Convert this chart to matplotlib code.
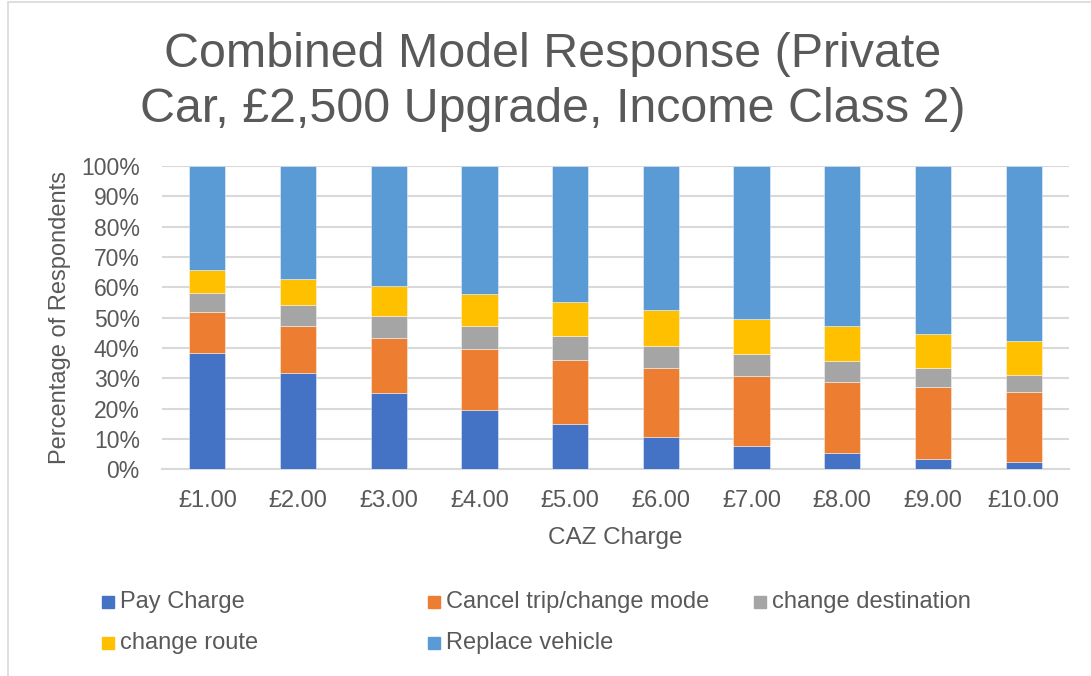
import matplotlib
matplotlib.use("Agg")
import matplotlib.pyplot as plt
import numpy as np
from matplotlib.patches import Rectangle

plt.rcParams['font.family'] = ['Liberation Sans', 'DejaVu Sans']

categories = ["£1.00", "£2.00", "£3.00", "£4.00", "£5.00",
              "£6.00", "£7.00", "£8.00", "£9.00", "£10.00"]
pay_charge = [38.5, 31.8, 25.2, 19.6, 14.8, 10.7, 7.8, 5.5, 3.5, 2.5]
cancel_trip = [13.2, 15.6, 18.0, 19.9, 21.4, 22.6, 23.0, 23.3, 23.5, 22.9]
change_destination = [6.3, 6.8, 7.4, 7.6, 7.6, 7.4, 7.3, 6.8, 6.3, 5.7]
change_route = [7.6, 8.7, 9.9, 10.8, 11.2, 11.7, 11.6, 11.5, 11.3, 11.1]
replace_vehicle = [34.4, 37.1, 39.5, 42.1, 45.0, 47.6, 50.3, 52.9, 55.4, 57.8]

series_names = ["Pay Charge", "Cancel trip/change mode", "change destination",
                "change route", "Replace vehicle"]
series_values = [pay_charge, cancel_trip, change_destination, change_route, replace_vehicle]
colors = ["#4472C4", "#ED7D31", "#A5A5A5", "#FFC000", "#5B9BD5"]

title_lines = ["Combined Model Response (Private", "Car, £2,500 Upgrade, Income Class 2)"]
text_color = "#595959"
grid_color = "#D9D9D9"

W, H = 1091, 676
fig = plt.figure(figsize=(W / 100, H / 100), dpi=100)

# chart border
fig.patches.append(Rectangle((8 / W, -0.1), 1.2, (H - 2) / H + 0.1, transform=fig.transFigure,
                             fill=False, edgecolor=grid_color, linewidth=1.2))

ax_left, ax_right, ax_top, ax_bottom = 162, 1069, 166, 469.3
ax = fig.add_axes([ax_left / W, (H - ax_bottom) / H, (ax_right - ax_left) / W,
                   (ax_bottom - ax_top) / H])

x = np.arange(len(categories))
bottom = np.zeros(len(categories))
for name, vals, c in zip(series_names, series_values, colors):
    v = np.array(vals, dtype=float)
    ax.bar(x, v, 0.4, bottom=bottom, color=c, label=name,
           edgecolor=(1, 1, 1, 0.5), linewidth=0.6, zorder=3)
    bottom += v

ax.set_xlim(-0.5, len(categories) - 0.5)
ax.set_ylim(0, 100)
ax.set_yticks(np.arange(0, 101, 10))
ax.set_yticklabels([f"{v}%" for v in range(0, 101, 10)])
ax.set_xticks(x)
ax.set_xticklabels(categories)
ax.yaxis.grid(True, color=grid_color, linewidth=1.5, zorder=0)
ax.set_axisbelow(True)
for s in ["top", "right", "left"]:
    ax.spines[s].set_visible(False)
ax.spines["bottom"].set_color(grid_color)
ax.spines["bottom"].set_linewidth(1.5)
ax.tick_params(axis="both", length=0, colors=text_color)
ax.tick_params(axis="x", pad=15, labelsize=17)
ax.tick_params(axis="y", pad=16, labelsize=16.5)

aw = ax_right - ax_left
ah = ax_bottom - ax_top
ax.set_xlabel("CAZ Charge", fontsize=17.5, color=text_color)
ax.xaxis.set_label_coords(0.5, -(527 - ax_bottom) / ah)
ax.set_ylabel("Percentage of Respondents", fontsize=17, color=text_color)
ax.yaxis.set_label_coords(-(ax_left - 71) / aw, 0.5)

# title, one baseline per line
for line, base_y in zip(title_lines, [67, 122]):
    fig.text(553 / W, 1 - base_y / H, line, ha="center", va="baseline",
             fontsize=34.8, color=text_color)

# legend (manual, to mirror the reference layout)
legend_pos = [(102, 602), (428, 602), (754, 602), (102, 643), (428, 643)]
for (px, py), name, c in zip(legend_pos, series_names, colors):
    fig.patches.append(Rectangle((px / W, 1 - (py + 6) / H), 12 / W, 12 / H,
                                 transform=fig.transFigure, color=c))
    fig.text((px + 18) / W, 1 - py / H, name, ha="left", va="center",
             fontsize=17, color=text_color)

fig.savefig("out.png", dpi=100, facecolor="white")
